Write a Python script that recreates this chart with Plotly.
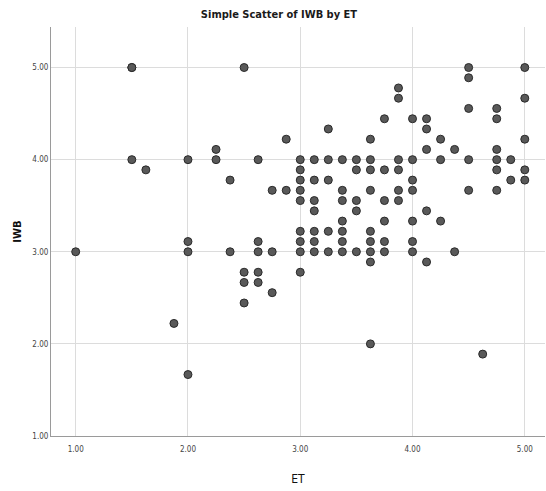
import plotly.graph_objects as go

# ET values (x) and IWB values (y)
ET = [
    1.5, 5.0, 4.5, 4.5, 3.875, 3.875, 5.0, 4.5, 4.75,
    3.75, 4.0, 4.125, 4.75, 3.25, 4.125,
    2.875, 3.625, 4.25, 5.0,
    4.125, 4.375, 4.75,
    3.0, 3.125, 3.25, 3.375, 3.5, 3.625, 3.875, 4.0, 4.25, 4.5, 4.75, 4.875,
    3.0, 3.5, 3.625, 3.75, 3.875, 4.75, 5.0,
    3.0, 3.125, 3.25, 4.0, 4.875, 5.0,
    2.875, 3.0, 3.375, 3.625, 3.875, 4.0, 4.5, 4.75,
    3.0, 3.125, 3.375, 3.5, 3.75, 3.875,
    3.125, 3.5, 4.125,
    3.375, 3.75, 4.0, 4.25,
    3.0, 3.125, 3.25, 3.375, 3.625,
    3.0, 3.125, 3.375, 3.625, 3.75, 4.0,
    3.0, 3.125, 3.25, 3.375, 3.5, 3.625, 3.75, 4.0, 4.375,
    3.625, 4.125,
    3.0,
    3.625,
    4.625,
    1.5, 2.5,
    2.25,
    1.5, 2.0, 2.25, 2.625,
    1.625,
    2.375,
    2.75,
    1.0, 2.0, 2.0, 2.375, 2.625, 2.625, 2.75,
    2.5, 2.625, 2.5, 2.625, 2.75, 2.5,
    1.875, 2.0,
]
IWB = [
    5.0, 5.0, 5.0, 4.889, 4.778, 4.667, 4.667, 4.556, 4.556,
    4.444, 4.444, 4.444, 4.444, 4.333, 4.333,
    4.222, 4.222, 4.222, 4.222,
    4.111, 4.111, 4.111,
    4.0, 4.0, 4.0, 4.0, 4.0, 4.0, 4.0, 4.0, 4.0, 4.0, 4.0, 4.0,
    3.889, 3.889, 3.889, 3.889, 3.889, 3.889, 3.889,
    3.778, 3.778, 3.778, 3.778, 3.778, 3.778,
    3.667, 3.667, 3.667, 3.667, 3.667, 3.667, 3.667, 3.667,
    3.556, 3.556, 3.556, 3.556, 3.556, 3.556,
    3.444, 3.444, 3.444,
    3.333, 3.333, 3.333, 3.333,
    3.222, 3.222, 3.222, 3.222, 3.222,
    3.111, 3.111, 3.111, 3.111, 3.111, 3.111,
    3.0, 3.0, 3.0, 3.0, 3.0, 3.0, 3.0, 3.0, 3.0,
    2.889, 2.889,
    2.778,
    2.0,
    1.889,
    5.0, 5.0,
    4.111,
    4.0, 4.0, 4.0, 4.0,
    3.889,
    3.778,
    3.667,
    3.0, 3.111, 3.0, 3.0, 3.111, 3.0, 3.0,
    2.778, 2.778, 2.667, 2.667, 2.556, 2.444,
    2.222, 1.667,
]
TICKS = [1.0, 2.0, 3.0, 4.0, 5.0]
TICK_LABELS = ["1.00", "2.00", "3.00", "4.00", "5.00"]

NARROW = "DejaVu Sans Condensed, Liberation Sans Narrow, Arial Narrow, sans-serif"

fig = go.Figure(go.Scatter(
    x=ET, y=IWB, mode="markers",
    marker=dict(size=8, color="#595959", line=dict(color="#2a2a2a", width=1)),
    hoverinfo="x+y",
))

fig.update_layout(
    width=546, height=491,
    margin=dict(l=51, r=1, t=27, b=55),
    paper_bgcolor="white", plot_bgcolor="white",
    showlegend=False,
    title=dict(text="<b>Simple Scatter of IWB by ET</b>", x=0.511, xanchor="center",
               y=0.971, yanchor="middle",
               font=dict(family=NARROW, size=11, color="#1a1a1a")),
)
fig.update_xaxes(
    range=[0.78, 5.18], tickvals=TICKS, ticktext=TICK_LABELS,
    showgrid=True, gridcolor="#dcdcdc", gridwidth=1,
    showline=True, linecolor="#9a9a9a", linewidth=1,
    zeroline=False, ticks="", ticklabelstandoff=5,
    tickfont=dict(family=NARROW, size=8, color="#444444"),
    title=dict(text="ET", font=dict(family=NARROW, size=12, color="#111111"), standoff=22),
)
fig.update_yaxes(
    range=[1.0, 5.44], tickvals=TICKS, ticktext=TICK_LABELS,
    showgrid=True, gridcolor="#dcdcdc", gridwidth=1,
    showline=True, linecolor="#9a9a9a", linewidth=1,
    zeroline=False, ticks="",
    tickfont=dict(family=NARROW, size=8, color="#444444"),
    title=dict(text="<b>IWB</b>", font=dict(family="DejaVu Sans, sans-serif", size=10, color="#111111"), standoff=8),
)

fig.write_html("out.html", config={"displayModeBar": False},
               post_script="document.body.style.margin='0';document.body.style.overflow='hidden';")
